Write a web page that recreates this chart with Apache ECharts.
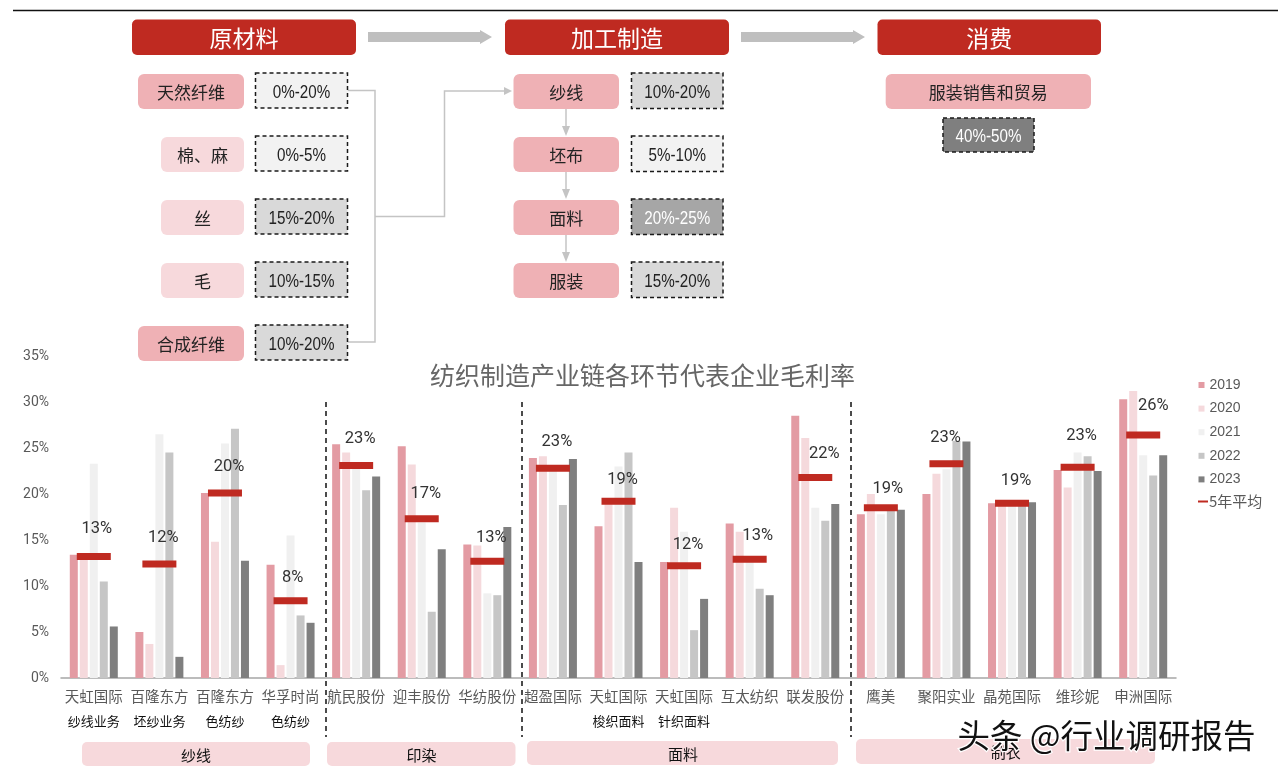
<!DOCTYPE html>
<html><head><meta charset="utf-8">
<style>html,body{margin:0;padding:0;background:#fff}#c{width:1278px;height:774px}</style>
<script src="https://cdn.jsdelivr.net/npm/echarts@6/dist/echarts.min.js"></script>
</head><body><div id="c"></div>
<script>
const companies=['天虹国际','百隆东方','百隆东方','华孚时尚','航民股份','迎丰股份','华纺股份','超盈国际','天虹国际','天虹国际','互太纺织','联发股份','鹰美','聚阳实业','晶苑国际','维珍妮','申洲国际'];
const businessLines=['纱线业务','坯纱业务','色纺纱','色纺纱','','','','','梭织面料','针织面料','','','','','','',''];
const yearNames=['2019','2020','2021','2022','2023'];
const margin2019=[13.4,5.0,20.1,12.3,25.4,25.2,14.5,23.9,16.5,12.6,16.8,28.5,17.8,20.0,19.0,22.6,30.3];
const margin2020=[13.4,3.7,14.8,1.4,24.5,23.2,14.4,24.1,19.2,18.5,15.9,26.1,20.0,22.2,18.7,20.7,31.2];
const margin2021=[23.3,26.5,25.5,15.5,22.9,16.9,9.2,22.5,23.0,15.9,12.6,18.5,17.8,22.7,18.7,24.5,24.2];
const margin2022=[10.5,24.5,27.1,6.8,20.4,7.2,9.0,18.8,24.5,5.2,9.7,17.1,18.2,25.8,18.7,24.1,22.0];
const margin2023=[5.6,2.3,12.75,6.0,21.9,14.0,16.4,23.8,12.6,8.6,9.0,18.9,18.3,25.7,19.1,22.5,24.2];
const average5y=[13.2,12.4,20.1,8.4,23.1,17.3,12.7,22.8,19.2,12.2,12.9,21.8,18.5,23.3,19.0,22.9,26.4];
const averageName='5年平均';
const chartTitle='纺织制造产业链各环节代表企业毛利率';
const yTicks=[0,5,10,15,20,25,30,35];
const stageNames=['原材料','加工制造','消费'];
const materialNames=['天然纤维','棉、麻','丝','毛','合成纤维'];
const materialRanges=['0%-20%','0%-5%','15%-20%','10%-15%','10%-20%'];
const processNames=['纱线','坯布','面料','服装'];
const processRanges=['10%-20%','5%-10%','20%-25%','15%-20%'];
const consumeName='服装销售和贸易';
const consumeRange='40%-50%';
const segmentNames=['纱线','印染','面料','制衣'];
const watermark='头条 @行业调研报告';

const yearColors=['#E39BA3','#F5D9DC','#F0F0F0','#C6C6C6','#7F7F7F'];
const RED='#BF2A21',PINK='#EFB1B5',LPINK='#F7D9DC',GL='#F2F2F2',GM='#D9D9D9',GD='#A6A6A6',GX='#7F7F7F',ARW='#C4C4C4';
const CJK='"Noto Sans CJK SC"',NUM='Roboto,"Liberation Sans"',SANS='"Liberation Sans"';
const labelShift=[[3,-28],[4,-26],[4,-26],[2,-23],[4,-27],[4,-25],[4,-23],[4,-26],[4,-21],[4,-21],[8,-23],[9,-24],[7,-19],[-1,-26],[4,-22],[4,-31],[10,-29]];

const g=[];
function box(x0,y0,x1,y1,fill,r){g.push({type:'rect',z:5,shape:{x:x0,y:y0,width:x1-x0,height:y1-y0,r:r||0},style:{fill}});}
function dashBox(x0,y0,x1,y1,fill){g.push({type:'rect',z:5,shape:{x:x0,y:y0,width:x1-x0,height:y1-y0},style:{fill,stroke:'#1a1a1a',lineWidth:1.5,lineDash:[4,3]}});}
function txt(x,y,text,size,color,font){g.push({type:'text',z:6,x,y,style:{text,fontSize:size,fill:color,fontFamily:font||CJK,align:'center',verticalAlign:'middle'}});}
function rangeTxt(x,y,text,color){g.push({type:'text',z:6,x,y,scaleX:0.8,scaleY:1,style:{text,fontSize:19,fill:color,fontFamily:SANS,align:'center',verticalAlign:'middle'}});}
function line(points,color,w,dash){g.push({type:'polyline',z:4,shape:{points},style:{stroke:color,lineWidth:w,fill:null,lineDash:dash||null}});}
function poly(points,fill){g.push({type:'polygon',z:4,shape:{points},style:{fill}});}

// top rule
line([[13,10.5],[1278,10.5]],'#111',1.5);
// stage headers
[[132,356],[505,729],[877.5,1101]].forEach((p,i)=>{box(p[0],19.5,p[1],55,RED,5);txt((p[0]+p[1])/2,38,stageNames[i],23,'#fff');});
// big arrows
[[368,492],[741,865]].forEach(p=>poly([[p[0],32],[p[1]-12,32],[p[1]-12,30],[p[1],37],[p[1]-12,44],[p[1]-12,42],[p[0],42]],'#BFBFBF'));
// materials
const rowY=[74,137,200,263,326];
const matFill=[PINK,LPINK,LPINK,LPINK,PINK],matLeft=[138,161,161,161,138],rangeFill=[GL,GL,GM,GM,GM];
materialNames.forEach((n,i)=>{
  const y=rowY[i];
  box(matLeft[i],y,244,y+35,matFill[i],6);
  txt((matLeft[i]+244)/2,y+19,n,17,'#222');
  dashBox(255.5,y-1,347.5,y+34,rangeFill[i]);
  rangeTxt(301.5,y+19,materialRanges[i],'#222');
});
// connector
line([[347.5,90.5],[375,90.5],[375,342],[347.5,342]],ARW,1.5);
line([[375,216.5],[444.5,216.5],[444.5,91],[505,91]],ARW,1.5);
poly([[504,87],[512,91],[504,95]],ARW);
// processes
const procFill=[GM,GL,GD,GM],procText=['#222','#222','#fff','#222'];
processNames.forEach((n,i)=>{
  const y=rowY[i];
  box(513.5,y,619,y+35,PINK,6);
  txt(566.2,y+19,n,17,'#222');
  dashBox(631.5,y-1,723,y+34.5,procFill[i]);
  rangeTxt(677.2,y+19,processRanges[i],procText[i]);
  if(i<3){line([[566,y+35],[566,y+54]],ARW,1.5);poly([[562,y+52],[570,y+52],[566,y+62]],ARW);}
});
// consumption
box(885.7,74,1091,109,PINK,6);
txt(988.3,93,consumeName,17,'#222');
dashBox(943,118,1034,152,GX);
rangeTxt(988.5,137,consumeRange,'#fff');
// dividers
[326,522,851].forEach(x=>line([[x,402],[x,737]],'#111',1.5,[5,4]));
// segment bands
[[82,310,742,766],[327,515.5,742,766],[527,838,741,765],[856,1155,739,764]].forEach(p=>{
  box(p[0],p[2],p[1],p[3],LPINK,5);
});
[[196,755],[421.5,755],[683,754],[1005.7,752]].forEach((p,i)=>txt(p[0],p[1],segmentNames[i],15,'#111'));
// watermark
g.push({type:'text',z:20,x:1106.5,y:736,style:{text:watermark,fontSize:32.5,fontFamily:CJK,fill:'#111',stroke:'#fff',lineWidth:2.5,align:'center',verticalAlign:'middle'}});

const barData=[margin2019,margin2020,margin2021,margin2022,margin2023];
const series=yearNames.map((n,i)=>({type:'bar',name:n,data:barData[i],barWidth:8,barGap:'25%',itemStyle:{color:yearColors[i]},z:2}));
series.push({type:'scatter',name:averageName,symbol:'rect',symbolSize:[34,7],z:3,itemStyle:{color:RED,opacity:1},
  data:average5y.map((v,i)=>({value:[i,v],label:{show:true,position:'inside',offset:labelShift[i],formatter:Math.round(v)+'%',fontSize:16.5,fontFamily:NUM,color:'#333'}}))});

const chart=echarts.init(document.getElementById('c'),null,{renderer:'canvas'});
chart.setOption({
  animation:false,
  backgroundColor:'#fff',
  title:{text:chartTitle,left:637.5,top:358,textAlign:'center',textStyle:{fontFamily:CJK,fontSize:25,fontWeight:'normal',color:'#666'}},
  grid:{left:61,right:102,top:356,bottom:96,containLabel:false},
  legend:[
    {data:yearNames.map(n=>({name:n,icon:'rect'})),orient:'vertical',left:1198.5,top:378,itemWidth:6,itemHeight:6,itemGap:9.6,selectedMode:false,textStyle:{fontFamily:SANS,fontSize:14,color:'#595959'},padding:0},
    {data:[{name:averageName,icon:'rect'}],orient:'vertical',left:1198,top:494,itemWidth:10,itemHeight:2,selectedMode:false,itemStyle:{color:RED},textStyle:{fontFamily:CJK,fontSize:15,color:'#595959',padding:[0,0,0,-4]},padding:0}
  ],
  xAxis:{type:'category',data:companies,
    axisLine:{lineStyle:{color:'#A6A6A6',width:1.5}},axisTick:{show:false},
    axisLabel:{interval:0,margin:6,hideOverlap:false,
      formatter:(v,i)=>businessLines[i]?`{a|${v}}\n{b|${businessLines[i]}}`:`{a|${v}}`,
      rich:{a:{fontFamily:CJK,fontSize:14.5,color:'#595959',lineHeight:25},b:{fontFamily:CJK,fontSize:13,color:'#111',lineHeight:25}}}},
  yAxis:{type:'value',min:0,max:35,interval:5,splitLine:{show:false},axisLine:{show:false},axisTick:{show:false},
    axisLabel:{margin:12,padding:[2,0,0,0],formatter:v=>yTicks.includes(v)?v+'%':'',fontFamily:NUM,fontSize:14,color:'#595959'}},
  series,
  graphic:{elements:g}
});
</script></body></html>
